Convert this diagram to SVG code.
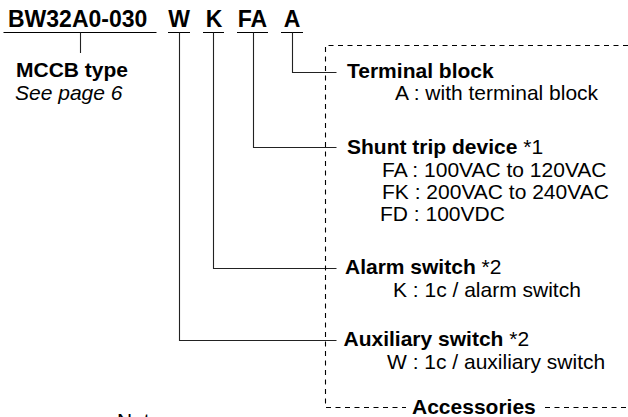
<svg xmlns="http://www.w3.org/2000/svg" width="628" height="417" viewBox="0 0 628 417">
<style>
text{font-family:"Liberation Sans",Arial,Helvetica,sans-serif;fill:#000}
.code{font-size:23px;font-weight:bold}
.h{font-size:21px;font-weight:bold}
.r{font-size:21px;font-weight:normal}
.i{font-size:21px;font-style:italic}
.ln{stroke:#222;stroke-width:1.1;fill:none}
.ul{stroke:#000;stroke-width:1.2;fill:none}
.dash{stroke:#000;stroke-width:1.1;fill:none;stroke-dasharray:5 4.5}
</style>
<rect width="628" height="417" fill="#fff"/>
<g id="code">
<text class="code" x="8" y="27">BW32A0-030</text>
<text class="code" x="179" y="27" text-anchor="middle">W</text>
<text class="code" x="214" y="27" text-anchor="middle">K</text>
<text class="code" x="252.5" y="27" text-anchor="middle">FA</text>
<text class="code" x="292" y="27" text-anchor="middle">A</text>
<path class="ul" d="M3.5 32.5H156.5M168 32.5H190M203 32.5H224M237 32.5H268M281 32.5H303"/>
</g>
<g id="connectors">
<path class="ln" d="M80.5 32.5V53"/>
<path class="ln" d="M179.5 32.5V340.5H336.5"/>
<path class="ln" d="M213.5 32.5V268.5H336.5"/>
<path class="ln" d="M253.5 32.5V147.5H336.5"/>
<path class="ln" d="M292.5 32.5V72.5H336.5"/>
</g>
<g id="mccb-type">
<text class="h" x="16" y="77">MCCB type</text>
<text class="i" x="15" y="100">See page 6</text>
</g>
<g id="accessories">
<path class="dash" d="M628 45.5H325.5V407.5H406"/>
<path class="dash" d="M545 407.5H628"/>
<text class="h" x="412" y="413.5">Accessories</text>
</g>
<g id="terminal-block">
<text class="h" x="347" y="78">Terminal block</text>
<text class="r" x="395" y="100">A : with terminal block</text>
</g>
<g id="shunt-trip">
<text class="h" x="347" y="154">Shunt trip device <tspan class="r">*1</tspan></text>
<text class="r" x="382" y="176.5">FA : 100VAC to 120VAC</text>
<text class="r" x="382" y="198.5">FK : 200VAC to 240VAC</text>
<text class="r" x="380" y="220.5">FD : 100VDC</text>
</g>
<g id="alarm-switch">
<text class="h" x="345" y="274">Alarm switch <tspan class="r">*2</tspan></text>
<text class="r" x="393" y="296.5">K : 1c / alarm switch</text>
</g>
<g id="auxiliary-switch">
<text class="h" x="343.5" y="346">Auxiliary switch <tspan class="r">*2</tspan></text>
<text class="r" x="387" y="368.5">W : 1c / auxiliary switch</text>
</g>
<g id="note">
<text class="r" x="117" y="428">Note:</text>
</g>
</svg>
